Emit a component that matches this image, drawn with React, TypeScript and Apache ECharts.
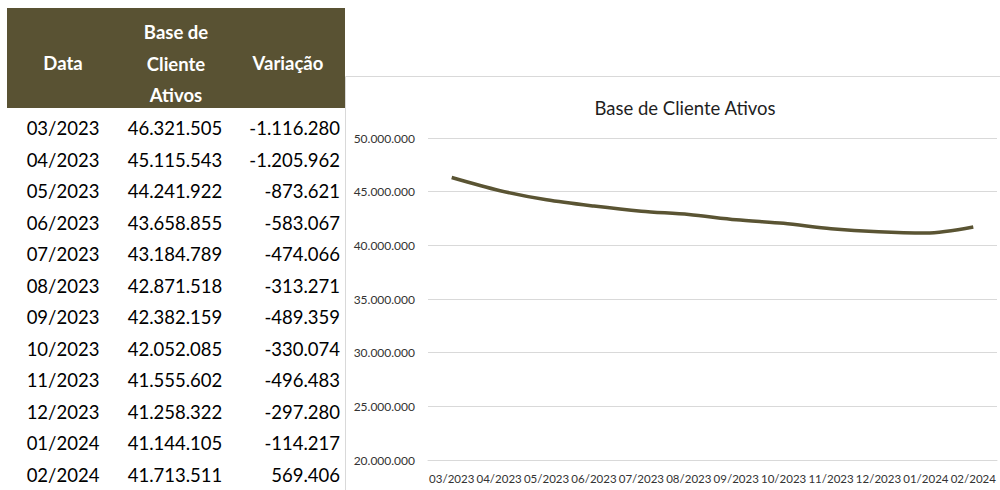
import React, { useEffect, useRef } from "react";
import * as echarts from "echarts";

const months = ["03/2023", "04/2023", "05/2023", "06/2023", "07/2023", "08/2023", "09/2023", "10/2023", "11/2023", "12/2023", "01/2024", "02/2024"];
const baseClientes = [46321505, 45115543, 44241922, 43658855, 43184789, 42871518, 42382159, 42052085, 41555602, 41258322, 41144105, 41713511];
const variacao = [-1116280, -1205962, -873621, -583067, -474066, -313271, -489359, -330074, -496483, -297280, -114217, 569406];
const headerBase = ["Base de", "Cliente", "Ativos"];
const chartTitle = "Base de Cliente Ativos";

const FONT = "Lato, 'Open Sans', sans-serif";
const OLIVE = "#595233";
const LINE = "#5a5433";

function fmt(n: number): string {
  const s = Math.abs(Math.round(n)).toString();
  const parts: string[] = [];
  for (let i = s.length; i > 0; i -= 3) parts.unshift(s.slice(Math.max(0, i - 3), i));
  return (n < 0 ? "-" : "") + parts.join(".");
}

export default function App() {
  const ref = useRef<HTMLDivElement>(null);
  useEffect(() => {
    if (!ref.current) return;
    const chart = echarts.init(ref.current, null, { renderer: "svg" });

    const rowTop = 128;
    const rowH = 31.5;
    const colData = 63;
    const colBase = 175;
    const colVarRight = 340;

    const graphics: any[] = [];
    // chart frame border
    graphics.push({
      type: "rect",
      z: 1,
      shape: { x: 345.5, y: 76.5, width: 700, height: 500 },
      style: { fill: "none", stroke: "#d9d9d9", lineWidth: 1 },
    });
    // header background
    graphics.push({
      type: "rect",
      z: 10,
      shape: { x: 7, y: 8, width: 338, height: 100 },
      style: { fill: OLIVE },
    });
    const hStyle = { fill: "#ffffff", font: `bold 18.5px ${FONT}`, align: "center", verticalAlign: "middle" };
    graphics.push({ type: "text", z: 11, x: colData, y: 63, style: { ...hStyle, text: "Data" } });
    headerBase.forEach((t, i) => {
      graphics.push({ type: "text", z: 11, x: 176, y: 32 + i * 31.5, style: { ...hStyle, text: t } });
    });
    graphics.push({ type: "text", z: 11, x: 288, y: 63, style: { ...hStyle, text: "Variação" } });

    const cStyle = { fill: "#000000", font: `18.5px ${FONT}`, verticalAlign: "middle" };
    months.forEach((m, i) => {
      const y = rowTop + i * rowH;
      graphics.push({ type: "text", z: 11, x: colData, y, style: { ...cStyle, align: "center", text: m } });
      graphics.push({ type: "text", z: 11, x: colBase, y, style: { ...cStyle, align: "center", text: fmt(baseClientes[i]) } });
      graphics.push({ type: "text", z: 11, x: colVarRight, y, style: { ...cStyle, align: "right", text: fmt(variacao[i]) } });
    });

    chart.setOption({
      animation: false,
      backgroundColor: "#ffffff",
      title: {
        text: chartTitle,
        left: 680,
        top: 93,
        textAlign: "center",
        textStyle: { fontFamily: FONT, fontSize: 18.5, fontWeight: "normal", color: "#1f1f1f" },
      },
      grid: { left: 428, right: 3, top: 138, height: 322, containLabel: false },
      xAxis: {
        type: "category",
        data: months,
        boundaryGap: true,
        axisLine: { show: true, lineStyle: { color: "#d9d9d9" } },
        axisTick: { show: false },
        axisLabel: { interval: 0, color: "#333333", fontFamily: FONT, fontSize: 11.5, margin: 12 },
      },
      yAxis: {
        type: "value",
        min: 20000000,
        max: 50000000,
        interval: 5000000,
        axisLine: { show: false },
        axisTick: { show: false },
        axisLabel: { color: "#333333", fontFamily: FONT, fontSize: 12, margin: 13, formatter: (v: number) => fmt(v) },
        splitLine: { lineStyle: { color: "#d9d9d9", width: 1 } },
      },
      series: [
        {
          type: "line",
          data: baseClientes,
          smooth: 0.3,
          symbol: "none",
          lineStyle: { color: LINE, width: 3.5 },
        },
      ],
      graphic: graphics,
    });
    return () => chart.dispose();
  }, []);
  return (
    <div
      ref={ref}
      style={{ position: "absolute", left: 0, top: 0, width: 1000, height: 490, background: "#fff" }}
    />
  );
}
